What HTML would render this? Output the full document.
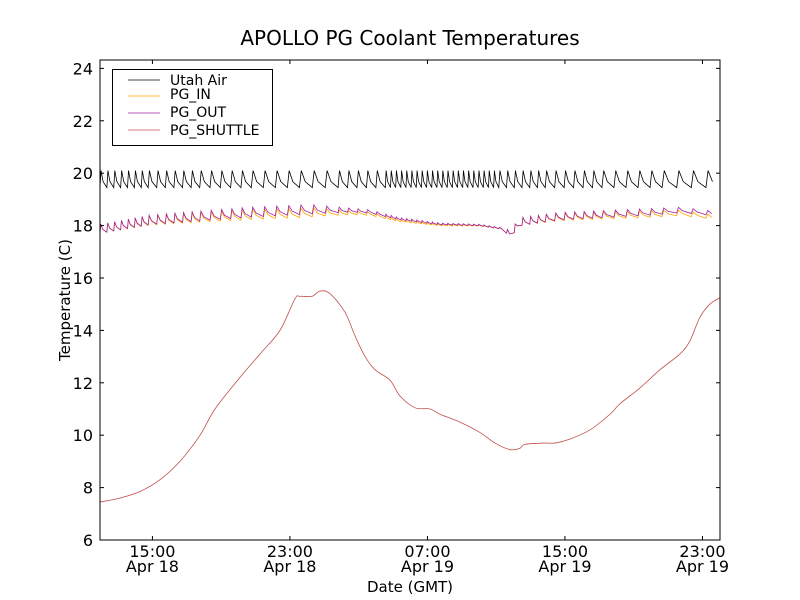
<!DOCTYPE html>
<html><head><meta charset="utf-8"><style>
body{margin:0;background:#fff;}
svg{display:block;font-family:"DejaVu Sans","Liberation Sans",sans-serif;}
</style></head><body>
<svg id="chart" width="800" height="600">
<rect width="800" height="600" fill="#fff"/>
<text x="410" y="45" font-size="20" text-anchor="middle">APOLLO PG Coolant Temperatures</text>
<g id="series"></g>
<rect x="100" y="60" width="620" height="480" fill="none" stroke="#000"/>
<g id="axes"></g>
<text x="410" y="592" font-size="15" text-anchor="middle">Date (GMT)</text>
<text transform="translate(70,300) rotate(-90)" font-size="15" text-anchor="middle">Temperature (C)</text>
<g>
<rect x="112.5" y="69.5" width="160" height="76" fill="#fff" stroke="#000"/>
<g><line x1="128" x2="160" y1="80" y2="80" stroke="#000" stroke-width="0.8"/><text x="170" y="85" font-size="14">Utah Air</text></g>
<g><line x1="128" x2="160" y1="96" y2="96" stroke="#ffa500" stroke-width="0.8"/><text x="170" y="99" font-size="14">PG_IN</text></g>
<g><line x1="128" x2="160" y1="113" y2="113" stroke="#a020a0" stroke-width="0.8"/><text x="170" y="117" font-size="14">PG_OUT</text></g>
<g><line x1="128" x2="160" y1="130" y2="130" stroke="#c0504d" stroke-width="0.8"/><text x="170" y="135" font-size="14">PG_SHUTTLE</text></g>
</g>
</svg>
<script>
// hours since 00:00 Apr 18
const xDomain = [11.95, 48.02];
const yDomain = [6, 24.32];
const yTicks = [6, 8, 10, 12, 14, 16, 18, 20, 22, 24];
const xTickHours = [15, 23, 31, 39, 47];
const xTickTimes = ["15:00", "23:00", "07:00", "15:00", "23:00"];
const xTickDates = ["Apr 18", "Apr 18", "Apr 19", "Apr 19", "Apr 19"];

const utahPeriods = [0.4,0.4,0.4,0.4,0.4,0.4,0.4, 0.5,0.5,0.5,0.5,0.5,0.5, 0.6,0.6,0.6,0.6,0.6, 0.7,0.7,0.7,0.7, 0.75,0.75,0.75, 0.55,0.55,0.55,0.55,0.55,
 0.3,0.3,0.3,0.3,0.3,0.3,0.3,0.3,0.3,0.3,0.3,0.3,0.3,0.3,0.3,0.3,0.3,0.3,0.3,0.3,0.3,0.3,
 0.45,0.45,0.45,0.45,0.45,0.45, 0.55,0.55,0.55,0.55,0.55,0.55, 0.7,0.7,0.7,0.7,0.7, 0.85,0.85,0.85,0.85];
const utahPeak = 20.1;
const utahTrough = 19.45;

const pgHours = [11.95,14.86,17.77,20.68,23.58,24.17,25.91,27.66,29.4,31.73,34.06,35.51,35.8,36.38,38.71,42.2,45.69,46.85,48.02];
const pgOutPeak = [18.05,18.4,18.55,18.7,18.78,18.8,18.7,18.6,18.3,18.1,18.05,17.9,17.8,18.3,18.5,18.6,18.7,18.62,18.5];
const ampHours = [11.95,20.68,24.17,26.49,29.4,35.22,36.09,43.95,48.02];
const pgAmp = [0.35,0.38,0.35,0.15,0.08,0.05,0.3,0.25,0.15];
const inHours = [11.95,17.77,23.58,29.4,32.31,35.8,38.71,43.95,48.02];
const pgInOffset = [0,0.05,0.12,0.07,0.03,0,0.03,0.08,0.15];

const shuttleHours = [11.95,13.11,14.28,15.44,16.6,17.77,18.64,20.09,21.26,22.42,23.29,23.58,24.28,24.75,25.33,26.2,26.78,27.37,27.95,28.82,29.4,30.27,31.15,31.73,32.89,34.06,34.93,35.8,36.38,36.67,37.84,38.42,39.29,40.45,41.62,42.2,43.36,44.53,45.69,46.27,46.85,47.43,48.02];
const shuttleTemps = [7.45,7.6,7.85,8.3,9.0,10.0,11.0,12.2,13.1,14.0,15.2,15.3,15.3,15.5,15.4,14.7,13.8,13.0,12.5,12.1,11.5,11.05,11.0,10.8,10.5,10.1,9.7,9.45,9.5,9.65,9.7,9.7,9.85,10.2,10.8,11.2,11.8,12.5,13.1,13.6,14.5,15.0,15.25];

const X = h => 100 + (h - xDomain[0]) / (xDomain[1] - xDomain[0]) * 620;
const Y = v => 540 - (v - yDomain[0]) / (yDomain[1] - yDomain[0]) * 480;
function interp(xs, ys, x){
  if (x <= xs[0]) return ys[0];
  for (let i = 1; i < xs.length; i++) if (x <= xs[i]) { const t = (x - xs[i-1]) / (xs[i] - xs[i-1]); return ys[i-1] + t * (ys[i] - ys[i-1]); }
  return ys[ys.length-1];
}
const NS = "http://www.w3.org/2000/svg";
const series = document.getElementById('series');
function addPath(d, color, name){
  const p = document.createElementNS(NS, 'path');
  p.setAttribute('d', d);
  p.setAttribute('fill', 'none'); p.setAttribute('stroke', color); p.setAttribute('stroke-width', '0.8');
  
  
  series.appendChild(p);
}
const linePath = pts => 'M' + pts.map(q => X(q[0]).toFixed(2) + ',' + Y(q[1]).toFixed(2)).join('L');
function smoothPath(pts){
  const P = pts.map(q => [X(q[0]), Y(q[1])]);
  let d = 'M' + P[0][0].toFixed(2) + ',' + P[0][1].toFixed(2);
  for (let i = 0; i < P.length - 1; i++) {
    const p0 = P[Math.max(0, i-1)], p1 = P[i], p2 = P[i+1], p3 = P[Math.min(P.length-1, i+2)];
    const c1 = [p1[0] + (p2[0]-p0[0])/6, p1[1] + (p2[1]-p0[1])/6];
    const c2 = [p2[0] - (p3[0]-p1[0])/6, p2[1] - (p3[1]-p1[1])/6];
    d += 'C' + c1.map(v=>v.toFixed(2)).join(',') + ' ' + c2.map(v=>v.toFixed(2)).join(',') + ' ' + p2.map(v=>v.toFixed(2)).join(',');
  }
  return d;
}
const starts = []; let t = xDomain[0];
for (const p of utahPeriods) { starts.push([t, p]); t += p; }
const air = [];
for (const [t0, p] of starts) {
  air.push([t0, utahTrough]); air.push([t0 + p*0.15, utahPeak]);
  air.push([t0 + p*0.45, utahTrough + (utahPeak - utahTrough)*0.35]); air.push([t0 + p, utahTrough]);
}
const pin = [], pout = [];
for (const [t0, p] of starts) {
  for (const f of [0, 0.12, 0.4, 0.99]) {
    const h = t0 + p*f;
    const pk = interp(pgHours, pgOutPeak, h), a = interp(ampHours, pgAmp, h);
    const shape = f === 0 ? 1 : f === 0.12 ? 0 : f === 0.4 ? 0.6 : 1;
    const v = pk - a * shape;
    pout.push([h, v]); pin.push([h, v - interp(inHours, pgInOffset, h)]);
  }
}
addPath(linePath(air.filter(q => q[0] <= xDomain[1])), '#000', 'utah-air-line');
addPath(linePath(pin.filter(q => q[0] <= xDomain[1])), '#ffa500', 'pg-in-line');
addPath(linePath(pout.filter(q => q[0] <= xDomain[1])), '#a020a0', 'pg-out-line');
addPath(smoothPath(shuttleHours.map((h, i) => [h, shuttleTemps[i]])), '#c0504d', 'pg-shuttle-line');

const axes = document.getElementById('axes');
function el(tag, attrs, text){ const e = document.createElementNS(NS, tag); for (const k in attrs) e.setAttribute(k, attrs[k]); if (text) e.textContent = text; axes.appendChild(e); return e; }
for (const v of yTicks) {
  const y = Y(v);
  const a = el('line', {x1:100, x2:104, y1:y, y2:y, stroke:'#000'});
  
  
  el('line', {x1:716, x2:720, y1:y, y2:y, stroke:'#000'});
  const tx = el('text', {x:93, y:y+6, 'font-size':16, 'text-anchor':'end'}, String(v));
  
  
}
xTickHours.forEach((h, i) => {
  const x = X(h);
  const a = el('line', {x1:x, x2:x, y1:536, y2:540, stroke:'#000'});
  
  
  el('line', {x1:x, x2:x, y1:60, y2:64, stroke:'#000'});
  const t1 = el('text', {x:x, y:557, 'font-size':16, 'text-anchor':'middle'}, xTickTimes[i]);
  
  
  const t2 = el('text', {x:x, y:572, 'font-size':16, 'text-anchor':'middle'}, xTickDates[i]);
  
  
});
</script>
</body></html>
